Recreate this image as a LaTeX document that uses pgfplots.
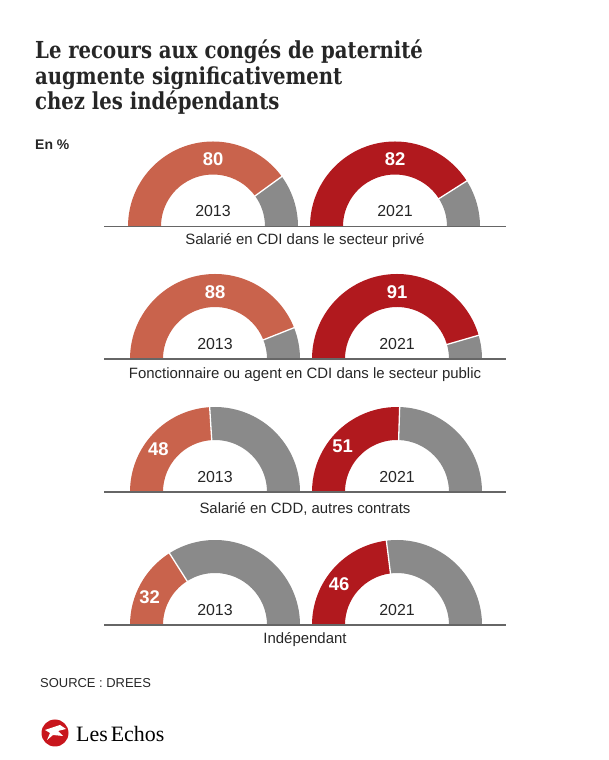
\documentclass[border=0pt]{standalone}
\usepackage{fontspec}
\setmainfont{Liberation Sans}
\newfontfamily\titlefont[FakeStretch=0.84]{DejaVu Serif}
\newfontfamily\logofont{Liberation Serif}
\usepackage{pgfplots}
\usepackage{pgfplotstable}
\pgfplotsset{compat=1.18}
\definecolor{c13}{HTML}{C9634C}
\definecolor{c21}{HTML}{B1191E}
\definecolor{cgr}{HTML}{8A8A8A}
\definecolor{txt}{HTML}{262626}
\definecolor{logored}{HTML}{C8161D}

\pgfplotstableread{
row y2013 y2021
0 80 82
1 88 91
2 48 51
3 32 46
}\paternite

\pgfplotsforeachungrouped \i in {0,1,2,3}{%
  \pgfplotstablegetelem{\i}{y2013}\of\paternite
  \expandafter\xdef\csname vA\i\endcsname{\pgfplotsretval}%
  \pgfplotstablegetelem{\i}{y2021}\of\paternite
  \expandafter\xdef\csname vB\i\endcsname{\pgfplotsretval}%
}

% #1 cx, #2 baseline y, #3 value macro name, #4 colour, #5 year
\newcommand\donut[5]{%
  \pgfplotsextra{%
  \begin{scope}[shift={(axis cs:#1,#2)}]
    \pgfmathsetmacro\dv{\csname #3\endcsname}%
    \pgfmathsetmacro\da{180-1.8*\dv}%
    \pgfmathsetmacro\la{\dv>=60 ? 90 : 186-0.9*\dv}%
    \pgfmathsetmacro\lr{\dv>=60 ? 67 : 71}%
    \fill[#4] (180:85bp) arc[start angle=180,end angle=\da,radius=85bp]
      -- (\da:52bp) arc[start angle=\da,end angle=180,radius=52bp] -- cycle;
    \fill[cgr] (\da:85bp) arc[start angle=\da,end angle=0,radius=85bp]
      -- (0:52bp) arc[start angle=0,end angle=\da,radius=52bp] -- cycle;
    \draw[white,line width=1.3bp] (\da:51bp) -- (\da:86bp);
    \node[white,font=\fontsize{18.5}{18.5}\selectfont\bfseries] at (\la:\lr bp) {\csname #3\endcsname};
    \node[txt,font=\fontsize{16}{16}\selectfont] at (0,15bp) {#5};
  \end{scope}}%
}

\begin{document}
\begin{tikzpicture}
\begin{axis}[x=1bp,y=1bp,xmin=0,xmax=609,ymin=0,ymax=760,
  hide axis,scale only axis,clip=false]
\path (axis cs:0,0) rectangle (axis cs:609,760);

% title
\node[anchor=base west,txt,inner xsep=0pt,font=\titlefont\bfseries\fontsize{23.5}{23.5}\selectfont] at (axis cs:35,701) {Le recours aux congés de paternité};
\node[anchor=base west,txt,inner xsep=0pt,font=\titlefont\bfseries\fontsize{23.5}{23.5}\selectfont] at (axis cs:35,675.5) {augmente significativement};
\node[anchor=base west,txt,inner xsep=0pt,font=\titlefont\bfseries\fontsize{23.5}{23.5}\selectfont] at (axis cs:35,650.5) {chez les indépendants};

\node[anchor=base west,txt,inner xsep=0pt,font=\bfseries\fontsize{14}{14}\selectfont] at (axis cs:35,610) {En \%};

% rows
\donut{213}{533.5}{vA0}{c13}{2013}
\donut{395}{533.5}{vB0}{c21}{2021}
\draw[color=black!60,line width=1.1bp] (axis cs:104,533.5) -- (axis cs:506,533.5);
\node[txt,font=\fontsize{15}{15}\selectfont] at (axis cs:305,519) {Salarié en CDI dans le secteur privé};

\donut{215}{401}{vA1}{c13}{2013}
\donut{397}{401}{vB1}{c21}{2021}
\draw[color=black!60,line width=1.1bp] (axis cs:104,401) -- (axis cs:506,401);
\node[txt,font=\fontsize{15}{15}\selectfont] at (axis cs:305,385) {Fonctionnaire ou agent en CDI dans le secteur public};

\donut{215}{268}{vA2}{c13}{2013}
\donut{397}{268}{vB2}{c21}{2021}
\draw[color=black!60,line width=1.1bp] (axis cs:104,268) -- (axis cs:506,268);
\node[txt,font=\fontsize{15}{15}\selectfont] at (axis cs:305,251) {Salarié en CDD, autres contrats};

\donut{215}{135}{vA3}{c13}{2013}
\donut{397}{135}{vB3}{c21}{2021}
\draw[color=black!60,line width=1.1bp] (axis cs:104,135) -- (axis cs:506,135);
\node[txt,font=\fontsize{15}{15}\selectfont] at (axis cs:305,120) {Indépendant};

% source
\node[anchor=base west,txt,inner xsep=0pt,font=\fontsize{13}{13}\selectfont] at (axis cs:40,72) {SOURCE : DREES};

% logo
\fill[logored] (axis cs:55,27) circle[radius=13.5bp];
\fill[white] (axis cs:45,30) -- (axis cs:60,35) -- (axis cs:66,31) -- (axis cs:58,29) -- (axis cs:63,24) -- (axis cs:53,25) -- (axis cs:47,20) -- (axis cs:50,27) -- cycle;
\node[anchor=base west,black,inner xsep=0pt,font=\logofont\fontsize{22}{22}\selectfont] at (axis cs:76,18) {Les\kern3pt Echos};
\end{axis}
\end{tikzpicture}
\end{document}
